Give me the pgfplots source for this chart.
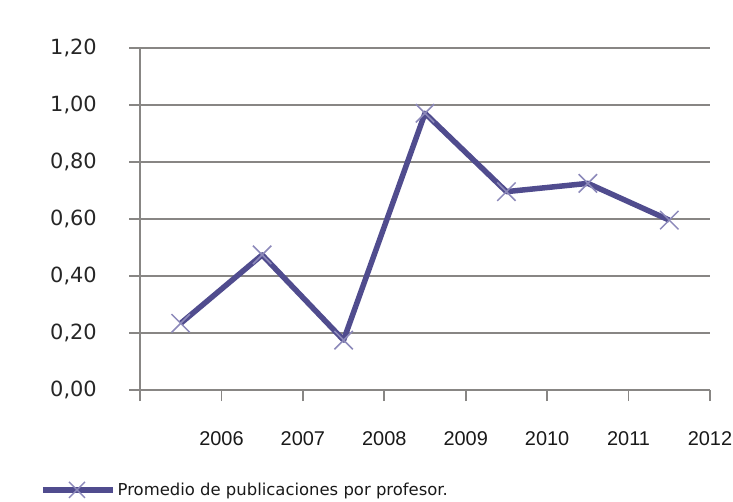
\documentclass[border=0pt]{standalone}
\usepackage{fontspec}
\setmainfont{DejaVu Sans}
\newfontfamily\yearfont{Liberation Sans}
\usepackage{pgfplots}
\pgfplotsset{compat=1.18}
\definecolor{lineblue}{RGB}{80,76,142}
\definecolor{markpurple}{RGB}{140,137,186}
\definecolor{gridgray}{RGB}{136,134,132}
\begin{document}
\begin{tikzpicture}
\useasboundingbox (0,0) rectangle (733bp,502bp);
\begin{axis}[
  at={(140bp,112bp)}, anchor=south west,
  scale only axis, width=570bp, height=342bp,
  xmin=0, xmax=7, ymin=0, ymax=1.2,
  axis x line*=bottom, axis y line*=left,
  axis line style={gridgray, line width=1.8bp, -},
  xtick={0,1,...,7},
  xticklabels={,2006,2007,2008,2009,2010,2011,2012},
  ytick={0,0.2,...,1.2},
  yticklabels={{0,00},{0,20},{0,40},{0,60},{0,80},{1,00},{1,20}},
  tick align=outside,
  major tick length=11bp,
  tick style={gridgray, line width=1.8bp},
  ymajorgrids, grid style={gridgray, line width=1.8bp},
  yticklabel style={font=\fontsize{21}{21}\selectfont, text=black!85, anchor=east, inner sep=0pt, xshift=-32bp},
  xticklabel style={font=\yearfont\fontsize{20}{20}\selectfont, text=black!90, anchor=north, inner sep=0pt, yshift=-30bp},
  clip=false,
  legend style={at={(-0.1754,-0.292)}, anchor=west, draw=none, fill=none, inner sep=0pt,
    font=\fontsize{16.5}{16.5}\selectfont, text=black!90,
    nodes={inner sep=2bp}},
  legend cell align=left,
  legend image code/.code={
    \draw[lineblue, line width=5.5bp] (0bp,0bp) -- (70bp,0bp);
    \draw[markpurple, line width=1.4bp] (26bp,-8bp) -- (42bp,8bp) (26bp,8bp) -- (42bp,-8bp);
  },
]
\addplot[only marks, mark=x, mark size=13bp, mark options={markpurple, line width=1.5bp}, forget plot]
  coordinates {(0.5,0.234) (1.5,0.474) (2.5,0.175) (3.5,0.971) (4.5,0.696) (5.5,0.725) (6.5,0.596)};
\addplot[lineblue, line width=5.5bp, line join=round]
  coordinates {(0.5,0.234) (1.5,0.474) (2.5,0.175) (3.5,0.971) (4.5,0.696) (5.5,0.725) (6.5,0.596)};
\addlegendentry{Promedio de publicaciones por profesor.}
\end{axis}
\end{tikzpicture}
\end{document}
